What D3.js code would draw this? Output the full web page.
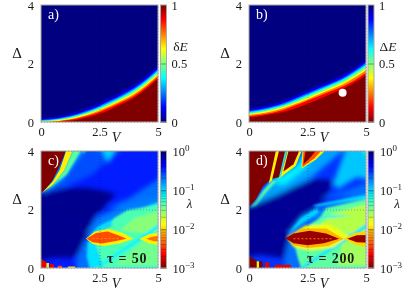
<!DOCTYPE html>
<html>
<head>
<meta charset="utf-8">
<script src="https://cdn.jsdelivr.net/npm/d3@7"></script>
<style>
  html, body { margin: 0; padding: 0; background: #fff; }
  svg { display: block; filter: blur(0.45px); }
  text { font-family: "Liberation Serif", serif; fill: #1a1a1a; }
</style>
</head>
<body>
<svg id="chart" width="415" height="291"></svg>
<script>
// values: V on x, Delta on y
const vTicks = [0, 2.5, 5];
const deltaTicks = [0, 2, 4];
const vSamples = [0, 0.5, 1, 1.5, 2, 2.5, 3, 3.5, 4, 4.5, 5];

// panel a, Delta where deltaE reaches each level
const levelsA = [0.06, 0.125, 0.25, 0.375, 0.5, 0.625, 0.75, 0.875, 1];
const contoursA = [
  [0.13, 0.18, 0.26, 0.37, 0.51, 0.68, 0.87, 1.08, 1.31, 1.60, 1.97],
  [0.09, 0.13, 0.20, 0.30, 0.44, 0.60, 0.79, 1.00, 1.23, 1.52, 1.88],
  [0.07, 0.10, 0.17, 0.26, 0.39, 0.55, 0.74, 0.94, 1.17, 1.46, 1.82],
  [0.05, 0.08, 0.14, 0.23, 0.35, 0.51, 0.69, 0.89, 1.12, 1.41, 1.76],
  [0.03, 0.06, 0.11, 0.20, 0.32, 0.47, 0.65, 0.85, 1.07, 1.36, 1.71],
  [0.02, 0.04, 0.09, 0.17, 0.29, 0.43, 0.61, 0.80, 1.02, 1.31, 1.65],
  [0.01, 0.02, 0.07, 0.14, 0.25, 0.39, 0.56, 0.75, 0.97, 1.26, 1.60],
  [0.00, 0.01, 0.05, 0.11, 0.21, 0.34, 0.51, 0.70, 0.91, 1.20, 1.54],
  [0.00, 0.00, 0.02, 0.07, 0.16, 0.28, 0.44, 0.63, 0.84, 1.13, 1.47],
];

// panel b, Delta where DeltaE drops to each level
const levelsB = [0.94, 0.875, 0.75, 0.625, 0.5, 0.375, 0.25, 0.125, 0];
const contoursB = [
  [0.47, 0.54, 0.63, 0.75, 0.92, 1.10, 1.27, 1.44, 1.62, 1.86, 2.15],
  [0.42, 0.49, 0.58, 0.70, 0.86, 1.04, 1.21, 1.38, 1.56, 1.80, 2.09],
  [0.38, 0.44, 0.53, 0.65, 0.81, 0.98, 1.15, 1.32, 1.50, 1.74, 2.03],
  [0.34, 0.40, 0.49, 0.60, 0.76, 0.93, 1.10, 1.27, 1.45, 1.69, 1.97],
  [0.30, 0.36, 0.45, 0.56, 0.71, 0.88, 1.05, 1.22, 1.40, 1.63, 1.91],
  [0.27, 0.33, 0.41, 0.52, 0.67, 0.83, 1.00, 1.17, 1.34, 1.57, 1.84],
  [0.24, 0.29, 0.37, 0.48, 0.62, 0.78, 0.95, 1.11, 1.28, 1.51, 1.77],
  [0.20, 0.25, 0.32, 0.42, 0.57, 0.73, 0.89, 1.05, 1.21, 1.42, 1.68],
  [0.16, 0.20, 0.27, 0.35, 0.47, 0.62, 0.79, 0.96, 1.13, 1.34, 1.60],
];
const markerB = [[4, 1]];

// panels c and d, regions of roughly equal lambda, as [lambda, outline]
const baseC = 0.35;
const softC = [
  [0.9, [[-0.3, 0.2], [-0.3, 2.55], [0.8, 2.72], [2, 2.75], [3.2, 2.55], [2.8, 2.15], [2.3, 1.75], [2.0, 1.2], [1.85, 0.7], [1.4, 0.35], [0.5, 0.35]]],
  [0.25, [[0, 2.55], [1.45, 4.2], [3.6, 4.2], [2.2, 3.2], [1, 2.75]]],
  [0.13, [[0.05, 2.58], [1.4, 4.2], [1.95, 4.2], [0.85, 3]]],
  [0.1, [[2.5, 4.2], [3.3, 4.2], [2.9, 3.6]]],
  [0.2, [[2.8, 2.05], [3.8, 2.4], [5.3, 3.2], [5.3, 2.2]]],
  [0.18, [[1.9, 1.1], [2.4, 1.75], [3.4, 2.1], [5.3, 2.55], [5.3, 1.9], [3, 1.4]]],
  [0.2, [[1.5, 0.3], [1.9, 1.0], [2.3, 0.9], [2.4, -0.2], [1.5, -0.2]]],
];
const midC = [
  [0.09, [[1.95, 1.05], [2.5, 1.45], [3.3, 1.75], [5.3, 2.35], [5.3, 2.18], [3.3, 1.6], [2.4, 1.25]]],
  [0.045, [[2.3, 1.2], [3.0, 1.45], [3.1, 1.7], [3.7, 1.98], [5.3, 2.2], [5.3, -0.2], [2.65, -0.2], [2.5, 0.4], [2.3, 0.85]]],
  [0.03, [[3.4, 1.3], [4, 1.7], [5.3, 2.0], [5.3, 1.25], [4.2, 1.2]]],
  [0.035, [[3.2, 0.1], [5.3, 0.1], [5.3, 1.3], [4.3, 0.9]]],
  [0.09, [[2.0, 0.95], [2.3, 0.85], [2.55, 0.3], [2.5, -0.1], [2.1, -0.1], [1.95, 0.4]]],
  [0.08, [[2.1, -0.1], [5.3, 1.66], [5.3, 1.5], [2.3, -0.1]]],
  [0.04, [[0, 2.55], [0.5, 2.9], [1, 3.35], [1.45, 4.2], [1.85, 4.2], [1.1, 3.2], [0.4, 2.75]]],
  [0.022, [[1.8, 3.9], [1.85, 4.2], [2.05, 4.2]]],
];
const sharpC = [
  [0.012, [[1.92, 1.01], [2.3, 1.25], [2.9, 1.33], [3.5, 1.2], [3.95, 1.0], [3.4, 0.85], [2.7, 0.75], [2.2, 0.82]]],
  [0.004, [[1.95, 1.01], [2.35, 1.2], [2.85, 1.25], [3.3, 1.12], [3.65, 1.0], [3.2, 0.92], [2.6, 0.84], [2.2, 0.88]]],
  [0.012, [[4.2, 1], [4.6, 1.15], [5.3, 1.25], [5.3, 0.75], [4.6, 0.85]]],
  [0.005, [[4.5, 1], [4.8, 1.08], [5.3, 1.12], [5.3, 0.88], [4.8, 0.92]]],
  [0.06, [[2.3, -0.1], [5.3, -0.1], [5.3, 0.04], [2.3, 0.04]]],
  [0.012, [[0, 2.55], [0.5, 2.95], [0.8, 3.35], [1.15, 4.2], [1.45, 4.2], [1, 3.35], [0.5, 2.85]]],
  [0.001, [[-0.3, 2.5], [0, 2.55], [0.25, 2.75], [0.5, 3.0], [0.75, 3.4], [0.95, 3.8], [1.15, 4.2], [-0.3, 4.2]]],
  [0.002, [[-0.2, -0.2], [-0.2, 0.31], [0.02, 0.31], [0.23, 0.2], [0.23, -0.2]]],
  [0.012, [[0.23, -0.2], [0.23, 0.17], [0.34, 0.17], [0.34, -0.2]]],
  [0.002, [[0.34, -0.2], [0.38, 0.15], [0.55, 0.13], [0.58, -0.2]]],
  [0.004, [[0.66, -0.2], [0.72, 0.08], [0.9, 0.08], [0.94, -0.2]]],
  [0.012, [[1.08, -0.2], [1.15, 0.05], [1.45, 0.05], [1.51, -0.2]]],
];

const baseD = 0.3;
const softD = [
  [0.85, [[-0.3, 0.35], [-0.3, 2.1], [0.6, 2.3], [1.5, 2.65], [2.8, 3.05], [3.6, 3.0], [3.3, 2.35], [2.3, 1.75], [1.7, 1.2], [1.95, 0.6], [1.7, 0.3], [0.5, 0.45]]],
  [0.14, [[0, 2.1], [1.1, 3.1], [2.2, 3.6], [3.2, 4.2], [4.3, 4.2], [2.6, 3.05], [1.2, 2.5]]],
  [0.08, [[0.9, 2.95], [1.3, 3.1], [2, 3.5], [2.5, 4.2], [3, 4.2], [2.4, 3.4], [1.5, 2.85]]],
  [0.11, [[4.2, 4.2], [5.3, 4.2], [5.3, 3.0], [4.6, 3.1], [3.8, 2.7], [3.6, 2.9]]],
  [0.06, [[4.7, 4.2], [5.3, 4.2], [5.3, 3.6]]],
  [0.2, [[3, 2.4], [4, 2.6], [5.3, 3], [5.3, 2.45]]],
  [0.18, [[1.6, 1.1], [2.3, 1.8], [3.2, 2.1], [5.3, 2.6], [5.3, 2.2], [3, 1.7]]],
  [0.2, [[1.5, 0.3], [1.7, 1], [2.1, 0.9], [2.3, -0.2], [1.6, -0.2]]],
];
const midD = [
  [0.1, [[1.6, 1.1], [2.3, 1.55], [3, 1.9], [2.9, 2.05], [2.2, 1.7]]],
  [0.04, [[1.9, 0.9], [2.4, 1.4], [3, 1.7], [3.3, 2.05], [5.3, 2.42], [5.3, -0.2], [2.3, -0.2], [2.1, 0.3]]],
  [0.022, [[3, 1.45], [3.5, 1.85], [5.3, 2.25], [5.3, 1.2], [4.3, 1.2]]],
  [0.025, [[4, 0.9], [5.3, 1.4], [5.3, 0.1], [3.8, 0.1]]],
  [0.09, [[2.7, 2.14], [5.3, 2.55], [5.3, 2.42], [2.9, 2.1]]],
  [0.08, [[2.8, 1.72], [3.6, 1.8], [4.4, 1.8], [3.6, 1.72]]],
  [0.09, [[1.95, -0.1], [5.3, 1.66], [5.3, 1.5], [2.15, -0.1]]],
  [0.015, [[1.6, 1.05], [2.4, 1.45], [3.4, 1.5], [4.3, 1.1], [3.6, 0.7], [2.6, 0.6], [1.9, 0.72]]],
  [0.04, [[0, 2.05], [0.3, 2.25], [0.6, 2.65], [1, 3.0], [1.2, 3.0], [0.6, 2.45], [0.3, 2.15]]],
  [0.05, [[1.2, 3.0], [1.57, 4.2], [1.72, 4.2], [1.35, 3.05]]],
];
const sharpD = [
  [0.008, [[1.62, 1.03], [2.3, 1.35], [3.3, 1.35], [4.05, 1.0], [3.4, 0.75], [2.5, 0.68], [1.9, 0.78]]],
  [0.0012, [[1.55, 1.02], [1.9, 1.18], [2.6, 1.27], [3.3, 1.18], [3.85, 1.0], [3.2, 0.85], [2.5, 0.78], [1.9, 0.85]]],
  [0.01, [[4.05, 1], [4.5, 1.2], [5.3, 1.3], [5.3, 0.68], [4.6, 0.78]]],
  [0.0012, [[4.2, 1], [4.6, 1.12], [5.3, 1.13], [5.3, 0.85], [4.6, 0.88]]],
  [0.001, [[-0.3, 2], [0, 2.08], [0.3, 2.35], [0.6, 2.8], [0.95, 3.05], [1.28, 3.1], [1.6, 4.2], [-0.3, 4.2]]],
  [0.012, [[0.85, 2.9], [1.2, 4.2], [1.34, 4.2], [0.98, 3.0]]],
  [0.012, [[1.35, 3.1], [1.72, 4.2], [2.35, 4.2], [2.0, 3.5]]],
  [0.001, [[1.47, 3.3], [1.75, 4.2], [2.25, 4.2], [1.9, 3.55]]],
  [0.012, [[2.24, 3.4], [2.3, 4.2], [3.5, 4.2], [2.85, 3.7]]],
  [0.004, [[2.28, 3.45], [2.35, 4.2], [3.3, 4.2], [2.8, 3.75]]],
  [0.001, [[2.33, 3.55], [2.45, 4.2], [3.05, 4.2], [2.65, 3.8]]],
  [0.001, [[-0.2, -0.2], [-0.2, 0.42], [0.02, 0.4], [0.33, 0.25], [0.33, -0.2]]],
  [0.012, [[0.33, -0.2], [0.33, 0.23], [0.43, 0.23], [0.43, -0.2]]],
  [0.001, [[0.43, -0.2], [0.43, 0.23], [0.58, 0.23], [0.58, -0.2]]],
  [0.002, [[0.66, -0.2], [0.7, 0.2], [0.86, 0.2], [0.9, -0.2]]],
  [0.002, [[1.05, -0.2], [1.1, 0.11], [1.78, 0.11], [1.83, -0.2]]],
];
const streakC = [[2.2, 1.01], [3.4, 1.01]];
const streakD = [[1.9, 1.0], [3.6, 1.0]];

const minorLambda = [2, 3, 4, 5, 6, 7, 8, 9].flatMap((m) => [m * 0.001, m * 0.01, m * 0.1]);

function jet(t) {
  const c = (v) => Math.round(255 * Math.max(0, Math.min(1, v)));
  return `rgb(${c(1.5 - Math.abs(4 * t - 3))},${c(1.5 - Math.abs(4 * t - 2))},${c(1.5 - Math.abs(4 * t - 1))})`;
}

const svg = d3.select("#chart");
const defs = svg.append("defs");
[["soft", 2.4], ["mid", 1.3], ["sharp", 0.5]].forEach(([id, dev]) => {
  defs.append("filter").attr("id", id)
    .attr("x", "-30%").attr("y", "-30%").attr("width", "160%").attr("height", "160%")
    .append("feGaussianBlur").attr("stdDeviation", dev);
});

const panelW = 117, panelH = 117, barW = 6;
const serif = '"Liberation Serif", serif';

function frame(id, left, top, label) {
  const x = d3.scaleLinear().domain([0, 5]).range([left, left + panelW]);
  const y = d3.scaleLinear().domain([0, 4]).range([top + panelH, top]);
  defs.append("clipPath").attr("id", "clip" + id)
    .append("rect").attr("x", left).attr("y", top).attr("width", panelW).attr("height", panelH);
  const g = svg.append("g");
  const plot = g.append("g").attr("clip-path", `url(#clip${id})`);
  return { x, y, g, plot, left, top, label };
}

function style(sel) {
  sel.select(".domain").remove();
  sel.selectAll(".tick line").attr("stroke", "#000").attr("stroke-opacity", 0.28).attr("stroke-dasharray", "1,2");
  sel.selectAll(".tick text").attr("font-size", 12.5).style("font-family", serif).attr("fill", "#1a1a1a");
}

function finish(p) {
  const { x, y, g, left, top, label } = p;
  // ticks run across the plot as faint dotted lines
  g.append("g").attr("transform", `translate(0,${top + panelH})`)
    .call(d3.axisBottom(x).tickValues(vTicks).tickSize(-panelH).tickPadding(5).tickFormat((d) => d))
    .call(style);
  g.append("g").attr("transform", `translate(${left},0)`)
    .call(d3.axisLeft(y).tickValues(deltaTicks).tickSize(-panelW).tickPadding(7).tickFormat((d) => d))
    .call(style);
  g.append("rect").attr("x", left).attr("y", top).attr("width", panelW).attr("height", panelH)
    .attr("fill", "none").attr("stroke", "#a8a8a8").attr("stroke-width", 1);
  g.append("text").attr("x", left + 7).attr("y", top + 14).attr("font-size", 14)
    .style("fill", "#fff").text(label);
  g.append("text").attr("x", left - 24).attr("y", top + 53).attr("font-size", 15)
    .attr("text-anchor", "middle").text("Δ");
  g.append("text").attr("x", left + 75).attr("y", top + 137).attr("font-size", 14)
    .attr("font-style", "italic").attr("text-anchor", "middle").text("V");
}

function contourPanel(p, levels, contours, colorOf, baseColor) {
  p.plot.append("rect").attr("x", p.left).attr("y", p.top).attr("width", panelW).attr("height", panelH).attr("fill", baseColor);
  const g = p.plot.append("g").attr("filter", "url(#sharp)");
  contours.forEach((c, i) => {
    const area = d3.area().x((d, j) => p.x(vSamples[j])).y0(p.y(-0.2)).y1((d) => p.y(d)).curve(d3.curveMonotoneX);
    g.append("path").datum(c).attr("d", area).attr("fill", colorOf(levels[i]));
  });
}

const lambda = d3.scaleLog().domain([0.001, 1]).range([1, 0]);
const lambdaColor = (v) => jet(lambda(v));

function regionPanel(p, base, soft, mid, sharp, streak) {
  const line = d3.line().x((d) => p.x(d[0])).y((d) => p.y(d[1])).curve(d3.curveLinearClosed);
  p.plot.append("rect").attr("x", p.left).attr("y", p.top).attr("width", panelW).attr("height", panelH).attr("fill", lambdaColor(base));
  [["soft", soft], ["mid", mid], ["sharp", sharp]].forEach(([id, layers]) => {
    p.plot.append("g").attr("filter", `url(#${id})`).selectAll("path").data(layers).join("path")
      .attr("d", (d) => line(d[1])).attr("fill", (d) => lambdaColor(d[0]));
  });
  p.plot.append("path").attr("d", d3.line().x((d) => p.x(d[0])).y((d) => p.y(d[1]))(streak))
    .attr("stroke", "#ff9020").attr("stroke-width", 0.8).attr("stroke-dasharray", "2,2").attr("fill", "none");
}

function barAxis(a) {
  a.select(".domain").remove();
  a.selectAll(".tick line").attr("stroke", "#000").attr("stroke-opacity", 0.35);
  a.selectAll(".tick text").attr("font-size", 12.5).style("font-family", serif).attr("fill", "#1a1a1a");
}

function linearBar(left, top, colorOf, title) {
  const s = d3.scaleLinear().domain([0, 1]).range([top + panelH, top]);
  const g = svg.append("g");
  g.selectAll("rect").data(d3.range(0, panelH)).join("rect")
    .attr("x", left).attr("y", (d) => top + d).attr("width", barW).attr("height", 1.2)
    .attr("fill", (d) => colorOf(s.invert(top + d + 0.5)));
  g.append("g").attr("transform", `translate(${left + barW},0)`)
    .call(d3.axisRight(s).tickValues([0, 0.5, 1]).tickSize(-barW).tickPadding(5).tickFormat((d) => d))
    .call(barAxis);
  g.append("rect").attr("x", left).attr("y", top).attr("width", barW).attr("height", panelH)
    .attr("fill", "none").attr("stroke", "#a8a8a8");
  const t = g.append("text").attr("x", left + 20).attr("y", top + 46).attr("font-size", 13.5)
    .attr("text-anchor", "middle");
  t.append("tspan").text(title[0]);
  t.append("tspan").attr("font-style", "italic").text(title[1]);
}

function logBar(left, top) {
  const s = d3.scaleLog().domain([0.001, 1]).range([top + panelH, top]);
  const g = svg.append("g");
  g.selectAll("rect").data(d3.range(0, panelH)).join("rect")
    .attr("x", left).attr("y", (d) => top + d).attr("width", barW).attr("height", 1.2)
    .attr("fill", (d) => lambdaColor(s.invert(top + d + 0.5)));
  g.selectAll("line").data(minorLambda).join("line")
    .attr("x1", left).attr("x2", left + barW).attr("y1", (d) => s(d)).attr("y2", (d) => s(d))
    .attr("stroke", "#000").attr("stroke-opacity", 0.3).attr("stroke-width", 0.8);
  g.append("g").attr("transform", `translate(${left + barW},0)`)
    .call(d3.axisRight(s).tickValues([0.001, 0.01, 0.1, 1]).tickSize(-barW).tickPadding(6).tickFormat(() => "10"))
    .call(barAxis)
    .call((a) => a.selectAll(".tick text").append("tspan").attr("font-size", 9).attr("dy", -5).text((d) => {
      const e = Math.round(Math.log10(d));
      return e < 0 ? "−" + -e : e;
    }));
  g.append("rect").attr("x", left).attr("y", top).attr("width", barW).attr("height", panelH)
    .attr("fill", "none").attr("stroke", "#a8a8a8");
  g.append("text").attr("x", left + 29).attr("y", top + 57).attr("font-size", 13)
    .attr("font-style", "italic").attr("text-anchor", "middle").text("λ");
}

const pa = frame("a", 41, 5, "a)");
contourPanel(pa, levelsA, contoursA, (l) => jet(l), jet(0));
finish(pa);
linearBar(160.5, 5, (v) => jet(v), ["δ", "E"]);

const pb = frame("b", 249, 5, "b)");
contourPanel(pb, levelsB, contoursB, (l) => jet(1 - l), jet(0));
pb.plot.selectAll("circle").data(markerB).join("circle")
  .attr("cx", (d) => pb.x(d[0])).attr("cy", (d) => pb.y(d[1])).attr("r", 4).attr("fill", "#fff");
finish(pb);
linearBar(368, 5, (v) => jet(1 - v), ["Δ", "E"]);

const pc = frame("c", 41, 151, "c)");
regionPanel(pc, baseC, softC, midC, sharpC, streakC);
finish(pc);
logBar(160.5, 151);
pc.g.append("text").attr("x", 107).attr("y", 263).attr("font-size", 14).attr("font-weight", "bold").attr("letter-spacing", 0.8).text("τ = 50");

const pd = frame("d", 249, 151, "d)");
regionPanel(pd, baseD, softD, midD, sharpD, streakD);
finish(pd);
logBar(368, 151);
pd.g.append("text").attr("x", 307).attr("y", 263).attr("font-size", 14).attr("font-weight", "bold").attr("letter-spacing", 0.8).text("τ = 200");
</script>
</body>
</html>
